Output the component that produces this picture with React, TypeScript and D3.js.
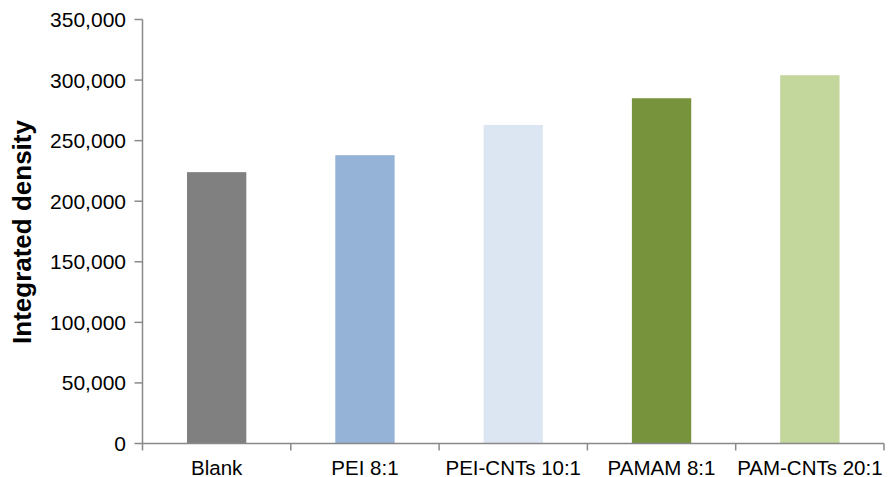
import React from "react";
import * as d3 from "d3";

const categories = ["Blank", "PEI 8:1", "PEI-CNTs 10:1", "PAMAM 8:1", "PAM-CNTs 20:1"];
const values = [224000, 238000, 263000, 285000, 304000];
const colors = ["#808080", "#95B3D7", "#DCE6F2", "#77933C", "#C3D69B"];
const yTicks = [0, 50000, 100000, 150000, 200000, 250000, 300000, 350000];
const yLabel = "Integrated density";

export default function App() {
  const W = 888, H = 477;
  const left = 142.5, right = 884, top = 19.5, bottom = 443.5;
  const x = d3.scaleBand<string>().domain(categories).range([left, right]).paddingInner(0.6).paddingOuter(0.3);
  const xc = d3.scaleBand<string>().domain(categories).range([left, right]);
  const y = d3.scaleLinear().domain([0, 350000]).range([bottom, top]);
  const fmt = d3.format(",");
  const axisColor = "#898989";
  const font = "Liberation Sans, Arial, sans-serif";
  return (
    <svg width={W} height={H} style={{ position: "absolute", left: 0, top: 0 }} fontFamily={font}>
      {categories.map((c, i) => (
        <rect key={c} x={x(c)} y={y(values[i])} width={x.bandwidth()} height={bottom - y(values[i])} fill={colors[i]} />
      ))}
      <line x1={left} x2={left} y1={top} y2={bottom} stroke={axisColor} strokeWidth={1.5} />
      <line x1={left} x2={right} y1={bottom} y2={bottom} stroke={axisColor} strokeWidth={1.5} />
      {yTicks.map((t) => (
        <g key={t}>
          <line x1={left - 8} x2={left} y1={y(t)} y2={y(t)} stroke={axisColor} strokeWidth={1.5} />
          <text x={126} y={y(t)} dy="0.36em" textAnchor="end" fontSize={21} fill="#000">{fmt(t)}</text>
        </g>
      ))}
      {categories.map((c) => (
        <line key={"t" + c} x1={xc(c) as number} x2={xc(c) as number} y1={bottom} y2={bottom + 7} stroke={axisColor} strokeWidth={1.5} />
      ))}
      <line x1={right} x2={right} y1={bottom} y2={bottom + 7} stroke={axisColor} strokeWidth={1.5} />
      {categories.map((c) => (
        <text key={"l" + c} x={(xc(c) as number) + xc.bandwidth() / 2} y={475} textAnchor="middle" fontSize={20.5} fill="#000">{c}</text>
      ))}
      <text transform={`translate(31,232) rotate(-90)`} textAnchor="middle" fontSize={26} fontWeight="bold" fill="#000">{yLabel}</text>
    </svg>
  );
}
